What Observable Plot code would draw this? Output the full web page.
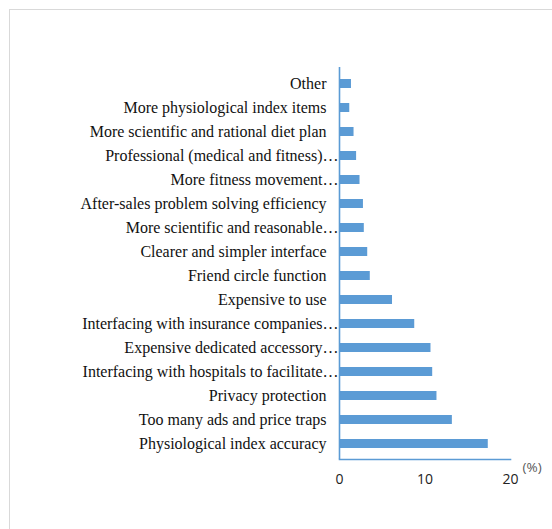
<!DOCTYPE html>
<html>
<head>
<meta charset="utf-8">
<script src="https://cdn.jsdelivr.net/npm/d3@7"></script>
<script src="https://cdn.jsdelivr.net/npm/@observablehq/plot@0.6"></script>
<style>
  html, body { margin: 0; padding: 0; background: #fff; overflow: hidden; }
  #wrap { position: relative; width: 552px; height: 529px; }
  #border { position: absolute; left: 9px; top: 9px; width: 700px; height: 700px; border: 1px solid #d9d9d9; box-sizing: border-box; }
  #chart { position: absolute; left: 0; top: 0; }
</style>
</head>
<body>
<div id="wrap"><div id="border"></div><div id="chart"></div></div>
<script>
const categories = [
  "Other",
  "More physiological index items",
  "More scientific and rational diet plan",
  "Professional (medical and fitness)…",
  "More fitness movement…",
  "After-sales problem solving efficiency",
  "More scientific and reasonable…",
  "Clearer and simpler interface",
  "Friend circle function",
  "Expensive to use",
  "Interfacing with insurance companies…",
  "Expensive dedicated accessory…",
  "Interfacing with hospitals to facilitate…",
  "Privacy protection",
  "Too many ads and price traps",
  "Physiological index accuracy"
];
const values = [1.4, 1.2, 1.7, 2.0, 2.4, 2.8, 2.9, 3.3, 3.6, 6.2, 8.8, 10.7, 10.9, 11.4, 13.2, 17.4];
const xTicks = [0, 10, 20];
const unitLabel = "(%)";

const data = categories.map((c, i) => ({category: c, value: values[i]}));
const blue = "#5B9BD5";
const serifFont = "'Liberation Serif', 'Times New Roman', 'DejaVu Serif', serif";
const plainLabels = categories.filter(c => !c.endsWith("…"));
const cutLabels = categories.filter(c => c.endsWith("…"));

const chart = Plot.plot({
  width: 552,
  height: 529,
  marginLeft: 339,
  marginRight: 42,
  marginTop: 67,
  marginBottom: 70,
  style: {background: "transparent"},
  x: {domain: [0, 20], axis: null},
  y: {domain: categories, paddingInner: 0.63, paddingOuter: 0.315, axis: null},
  marks: [
    Plot.barX(data, {x: "value", y: "category", fill: blue}),
    Plot.ruleX([0], {stroke: blue, strokeWidth: 1.6}),
    Plot.frame({anchor: "bottom", stroke: blue, strokeWidth: 1.6}),
    Plot.text(plainLabels, {x: 0, y: d => d, text: d => d, textAnchor: "end", dx: -13, fontSize: 16, fontFamily: serifFont, fill: "#111"}),
    Plot.text(cutLabels, {x: 0, y: d => d, text: d => d, textAnchor: "end", dx: -1, fontSize: 16, fontFamily: serifFont, fill: "#111"}),
    Plot.text(xTicks, {x: d => d, frameAnchor: "bottom", text: d => String(d), dy: 24, fontSize: 14, fontFamily: "'Open Sans', sans-serif", fill: "#222"}),
    Plot.text([unitLabel], {frameAnchor: "bottom-right", dx: 12, dy: 12, textAnchor: "start", fontSize: 13.5, fontFamily: "'Open Sans', sans-serif", fill: "#595959"})
  ]
});
document.getElementById("chart").appendChild(chart);
</script>
</body>
</html>
